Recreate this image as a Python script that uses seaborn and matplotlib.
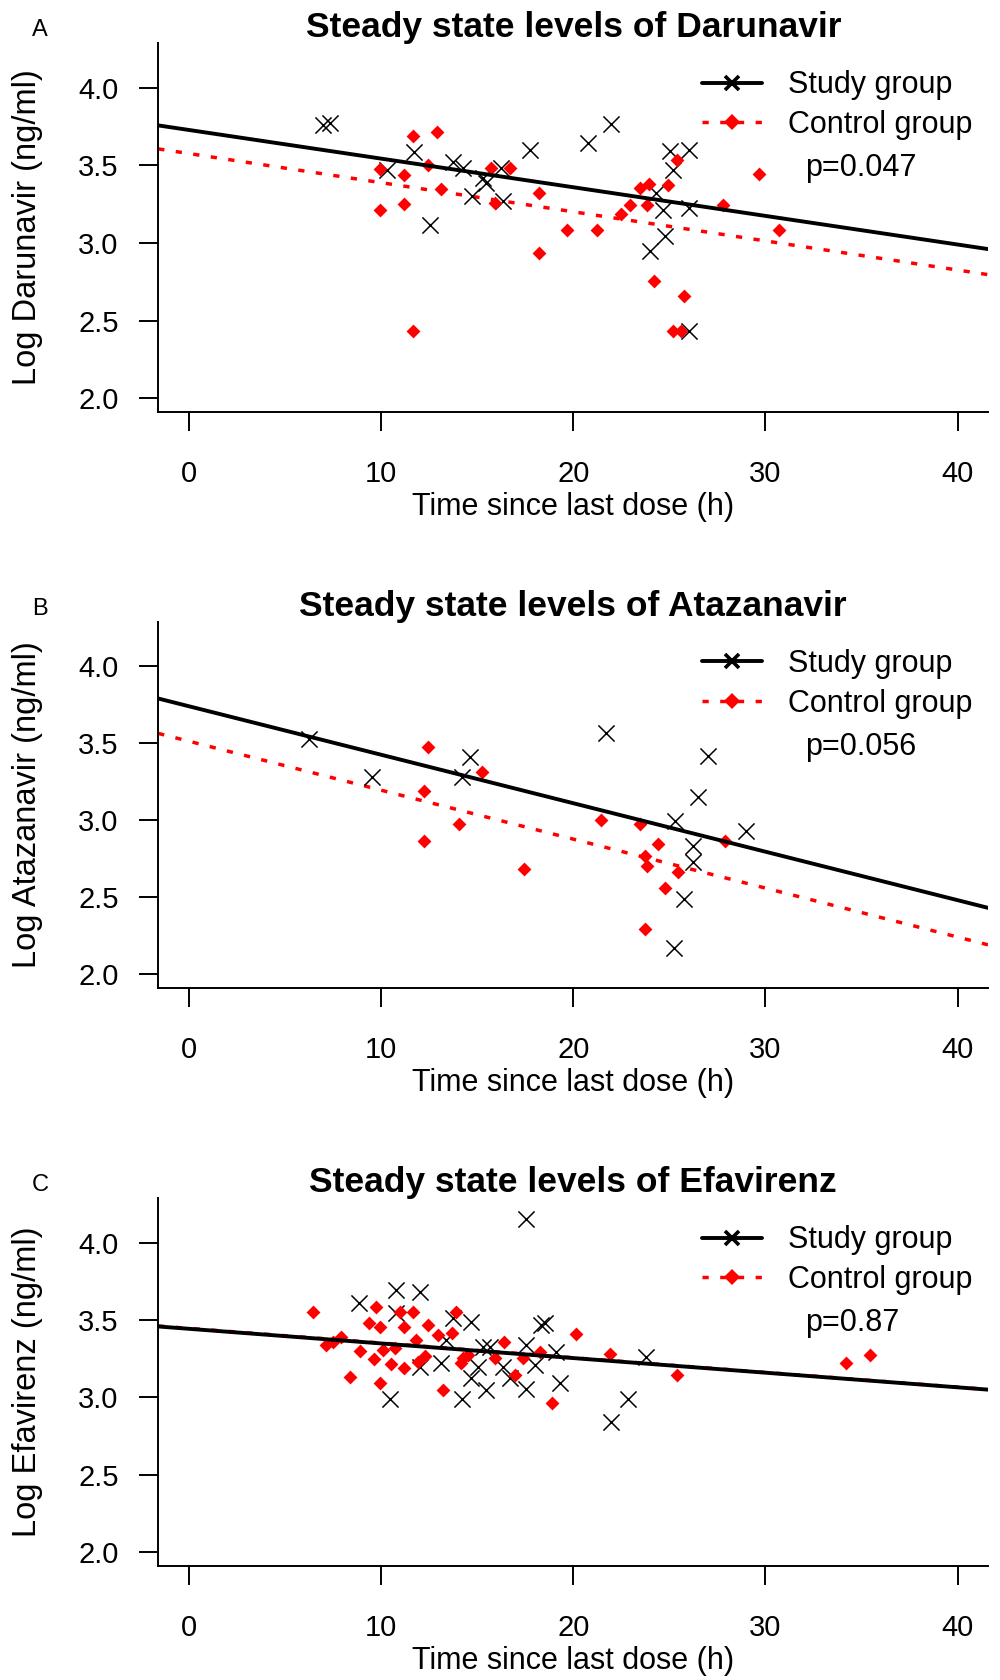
import numpy as np
import pandas as pd
import seaborn as sns
from matplotlib import pyplot as plt
from matplotlib.lines import Line2D

# ---- Darunavir (panel A) ----
dar_study_time = [6.97, 7.32, 10.30, 11.69, 13.74, 14.26, 14.75, 15.30, 15.48, 16.26, 16.34, 12.52,
                  17.73, 20.77, 21.98, 24.01, 24.33, 24.67, 24.76, 25.02, 25.19, 26.02, 26.02, 26.02]
dar_study_level = [3.763, 3.774, 3.473, 3.585, 3.52, 3.484, 3.305, 3.42, 3.387, 3.484, 3.268, 3.118,
                   3.602, 3.645, 3.77, 2.946, 3.323, 3.215, 3.043, 3.591, 3.473, 3.602, 3.226, 2.43]
dar_ctrl_time = [9.96, 9.96, 11.19, 11.19, 11.66, 11.66, 12.44, 12.91, 13.13, 15.74, 15.91, 16.73,
                 18.21, 18.21, 19.67, 21.23, 22.50, 22.93, 23.46, 23.84, 23.94, 24.20, 24.93, 25.19,
                 25.40, 25.63, 25.75, 27.79, 29.67, 30.71]
dar_ctrl_level = [3.477, 3.21, 3.441, 3.254, 3.688, 2.43, 3.505, 3.714, 3.348, 3.484, 3.258, 3.484,
                  3.323, 2.935, 3.084, 3.086, 3.189, 3.243, 3.355, 3.243, 3.383, 2.752, 3.376, 2.43,
                  3.533, 2.43, 2.656, 3.243, 3.447, 3.086]

# ---- Atazanavir (panel B) ----
ata_study_time = [6.24, 9.54, 14.23, 14.64, 21.69, 25.23, 25.28, 25.75, 26.23, 26.23, 26.49, 27.01, 29.01]
ata_study_level = [3.531, 3.285, 3.279, 3.414, 3.569, 2.173, 2.998, 2.492, 2.836, 2.733, 3.149, 3.418, 2.933]
ata_ctrl_time = [12.21, 12.21, 12.44, 14.05, 15.27, 17.42, 21.46, 23.46, 23.72, 23.72, 23.84, 24.41,
                 24.76, 25.45, 27.88]
ata_ctrl_level = [3.188, 2.865, 3.479, 2.977, 3.315, 2.686, 3.005, 2.977, 2.768, 2.293, 2.707, 2.848,
                  2.561, 2.664, 2.869]

# ---- Efavirenz (panel C) ----
efa_study_time = [17.52, 10.79, 12.0, 8.84, 10.79, 14.7, 13.74, 18.34, 18.51, 13.39, 17.56, 15.3,
                  15.65, 13.13, 12.0, 15.04, 16.34, 17.99, 19.12, 14.7, 16.69, 19.29, 15.48, 17.52,
                  10.44, 14.23, 23.77, 22.85, 21.98]
efa_study_level = [4.157, 3.695, 3.684, 3.613, 3.544, 3.49, 3.512, 3.469, 3.48, 3.372, 3.34, 3.329,
                   3.329, 3.222, 3.2, 3.2, 3.2, 3.211, 3.297, 3.125, 3.125, 3.093, 3.05, 3.054,
                   2.99, 2.99, 3.264, 2.99, 2.839]
efa_ctrl_time = [6.45, 7.11, 7.49, 7.93, 8.36, 8.92, 9.37, 9.71, 9.92, 9.61, 9.96, 10.09, 10.7, 10.53,
                 11.0, 11.66, 11.17, 11.17, 11.83, 12.44, 11.92, 12.26, 12.96, 13.92, 13.71, 13.22,
                 14.18, 14.52, 14.26, 15.91, 16.38, 16.95, 17.38, 18.25, 18.91, 20.13, 21.93, 25.4,
                 34.22, 35.43]
efa_ctrl_level = [3.551, 3.34, 3.361, 3.394, 3.135, 3.301, 3.48, 3.583, 3.458, 3.248, 3.093, 3.308,
                  3.319, 3.217, 3.555, 3.555, 3.458, 3.19, 3.372, 3.469, 3.232, 3.265, 3.405, 3.555,
                  3.415, 3.05, 3.226, 3.275, 3.254, 3.254, 3.361, 3.146, 3.254, 3.297, 2.966, 3.413,
                  3.278, 3.146, 3.222, 3.275]

# fitted lines (intercept, slope) per panel
study_fit = [(3.729, -0.01847), (3.741, -0.03147), (3.444, -0.00946)]
ctrl_fit = [(3.577, -0.01878), (3.514, -0.03178), (3.447, -0.0095)]

drugs = ["Darunavir", "Atazanavir", "Efavirenz"]
letters = ["A", "B", "C"]
p_values = ["p=0.047", "p=0.056", "p=0.87"]
x_ticks = [0, 10, 20, 30, 40]
y_ticks = [2.0, 2.5, 3.0, 3.5, 4.0]

study_sets = [(dar_study_time, dar_study_level), (ata_study_time, ata_study_level),
              (efa_study_time, efa_study_level)]
ctrl_sets = [(dar_ctrl_time, dar_ctrl_level), (ata_ctrl_time, ata_ctrl_level),
             (efa_ctrl_time, efa_ctrl_level)]

sns.set_style("white")
plt.rcParams['font.family'] = ['Liberation Sans', 'DejaVu Sans']
for key in ["text.color", "axes.labelcolor", "xtick.color", "ytick.color"]:
    plt.rcParams[key] = "black"

fig = plt.figure(figsize=(10, 16.8), dpi=100)
W, H = 1000.0, 1680.0
left, right = 158.2, 988.3
tops = [43.3, 622.0, 1198.3]
bottoms = [411.7, 988.0, 1565.7]
xlim = (-1.6, 41.6)
ylim = (1.912, 4.288)

for i in range(3):
    h = bottoms[i] - tops[i]
    ax = fig.add_axes([left / W, 1 - bottoms[i] / H, (right - left) / W, h / H])
    st = pd.DataFrame({"time": study_sets[i][0], "level": study_sets[i][1]})
    ct = pd.DataFrame({"time": ctrl_sets[i][0], "level": ctrl_sets[i][1]})

    sns.scatterplot(data=st, x="time", y="level", marker="x", color="black", s=135,
                    linewidth=1.1, ax=ax, zorder=3)
    sns.scatterplot(data=ct, x="time", y="level", marker="D", color="red", s=50,
                    linewidth=0, ax=ax, zorder=3)

    xs = np.array(xlim)
    a, b = ctrl_fit[i]
    ax.plot(xs, a + b * xs, color="red", lw=2.5, ls=(0, (1.8, 3.3)), zorder=2)
    a, b = study_fit[i]
    ax.plot(xs, a + b * xs, color="black", lw=2.8, zorder=4)

    ax.set_xlim(*xlim)
    ax.set_ylim(*ylim)
    ax.set_xticks(x_ticks)
    ax.set_yticks(y_ticks)
    ax.set_yticklabels([f"{v:.1f}" for v in y_ticks])
    for s in ["top", "right"]:
        ax.spines[s].set_visible(False)
    for s in ["left", "bottom"]:
        ax.spines[s].set_linewidth(1.4)
        ax.spines[s].set_color("black")
    ax.tick_params(axis="both", direction="out", length=13.5, width=1.4, color="black",
                   labelsize=21, left=True, bottom=True)
    ax.tick_params(axis="x", pad=21)
    ax.tick_params(axis="y", pad=15)

    ax.set_xlabel("Time since last dose (h)", fontsize=22, va="center")
    ax.xaxis.set_label_coords(0.5, -95.3 / h)
    ax.set_ylabel(f"Log {drugs[i]} (ng/ml)", fontsize=23.5, va="center")
    ax.yaxis.set_label_coords(-130.7 / (right - left), 0.5)

    ax.text(0.5, 1 + 6 / h, f"Steady state levels of {drugs[i]}",
            transform=ax.transAxes, ha="center", va="baseline", fontsize=25.5, fontweight="bold")
    fig.text(32 / W, 1 - (tops[i] - 7) / H, letters[i], fontsize=17, ha="left", va="baseline")

    handles = [
        Line2D([0], [0], color="black", lw=2.8, marker="x", markersize=10, markeredgewidth=2.6),
        Line2D([0], [0], color="red", lw=2.5, ls=(0, (1.8, 3.3)), marker="D", markersize=8.5,
               markeredgewidth=0),
    ]
    ax.legend(handles, ["Study group", "Control group"], loc="upper left",
              bbox_to_anchor=((702 - left) / (right - left), 1 - 27 / h), frameon=False,
              fontsize=22, handlelength=1.95, handletextpad=0.85, labelspacing=0.32,
              borderpad=0, borderaxespad=0, numpoints=1)
    ax.text((805 - left) / (right - left), 1 - 125 / h, p_values[i], transform=ax.transAxes,
            ha="left", va="center", fontsize=22)

fig.savefig("out.png", dpi=100)
